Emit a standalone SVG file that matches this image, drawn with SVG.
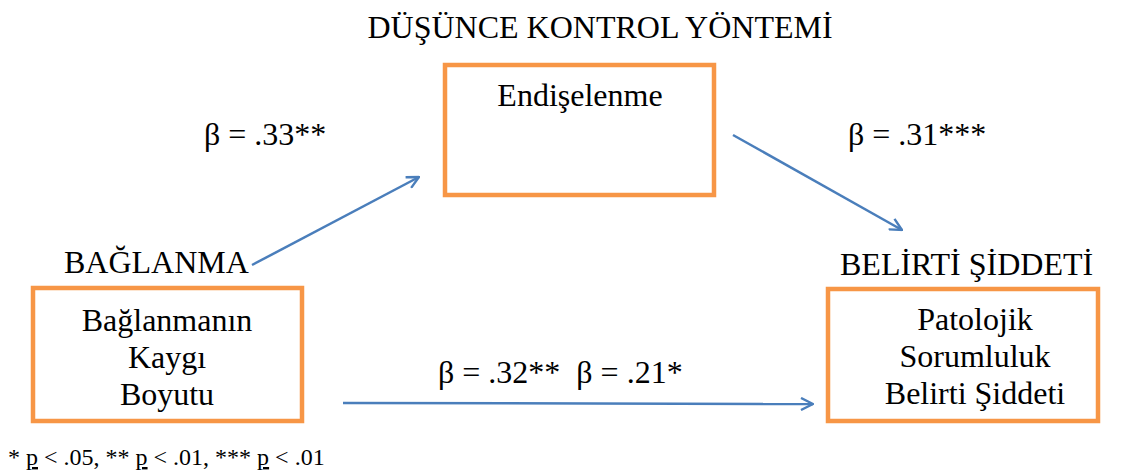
<svg xmlns="http://www.w3.org/2000/svg" width="1122" height="476" viewBox="0 0 1122 476">
<style>
.t{font-size:32px;}
.c{text-anchor:middle;}
.box{fill:#fff;stroke:#F79646;stroke-width:4.5;}
.arr{fill:none;stroke:#4A7EBB;stroke-width:2.5;}
</style>
<defs>
<marker id="ah" viewBox="0 0 14 14" refX="13" refY="7" markerWidth="14" markerHeight="14" markerUnits="userSpaceOnUse" orient="auto">
<path d="M1,1 L13,7 L1,13" fill="none" stroke="#4A7EBB" stroke-width="2.4"/>
</marker>
</defs>
<rect width="1122" height="476" fill="#fff"/>
<g font-family="'Liberation Serif', 'Times New Roman', serif" fill="#000">
<text class="t c" x="600" y="38">DÜŞÜNCE KONTROL YÖNTEMİ</text>
<text class="t" x="204" y="145">β = .33**</text>
<text class="t" x="848" y="145">β = .31***</text>
<text class="t" x="64" y="273">BAĞLANMA</text>
<text class="t" x="840" y="275">BELİRTİ ŞİDDETİ</text>
<text class="t" x="438" y="383" xml:space="preserve">β = .32**  β = .21*</text>
<g id="connectors">
<line class="arr" x1="252" y1="265" x2="419" y2="177" marker-end="url(#ah)"/>
<line class="arr" x1="733" y1="135" x2="902" y2="230" marker-end="url(#ah)"/>
<line class="arr" x1="343" y1="403" x2="813" y2="404" marker-end="url(#ah)"/>
</g>
<g id="endiselenme">
<rect class="box" x="445" y="65" width="269" height="130"/>
<text class="t c" x="580" y="106">Endişelenme</text>
</g>
<g id="baglanma">
<rect class="box" x="33" y="288" width="269" height="133"/>
<text class="t c" x="167" y="331">Bağlanmanın</text>
<text class="t c" x="167" y="368">Kaygı</text>
<text class="t c" x="167" y="405">Boyutu</text>
</g>
<g id="belirti">
<rect class="box" x="828" y="289" width="270" height="132"/>
<text class="t c" x="975" y="330">Patolojik</text>
<text class="t c" x="975" y="367">Sorumluluk</text>
<text class="t c" x="975" y="404">Belirti Şiddeti</text>
</g>
<text x="8" y="465" font-size="24">* <tspan text-decoration="underline">p</tspan> &lt; .05, ** <tspan text-decoration="underline">p</tspan> &lt; .01, *** <tspan text-decoration="underline">p</tspan> &lt; .01</text>
</g>
</svg>
